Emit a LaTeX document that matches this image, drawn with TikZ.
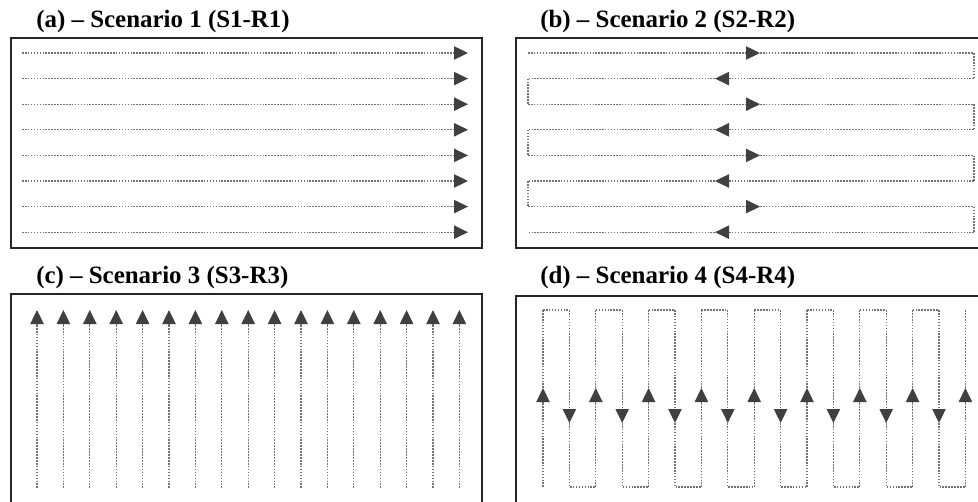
\documentclass[tikz,border=0pt]{standalone}
\usepackage{fontspec}
\setmainfont{Liberation Serif}
\usetikzlibrary{arrows.meta}

\begin{document}
\begin{tikzpicture}[x=0.75pt, y=-0.75pt,
    panel/.style={draw=black!85, line width=1.5pt},
    track/.style={draw=black!55, line width=0.9pt, dash pattern=on 1.2pt off 1pt},
    tip/.style={-{Triangle[length=10.5pt, width=10pt, color=black!75]}},
    title/.style={anchor=base west, inner sep=0pt, font=\fontsize{18.7}{22}\selectfont\bfseries}]
        \useasboundingbox (0,0) rectangle (978,502);
        \clip (0,0) rectangle (978,502);
        % titles
        \node[title] (titleA) at (36,28) {(a) – Scenario 1 (S1-R1)};
        \node[title] (titleB) at (540,28) {(b) – Scenario 2 (S2-R2)};
        \node[title] (titleC) at (36,284) {(c) – Scenario 3 (S3-R3)};
        \node[title] (titleD) at (540,284) {(d) – Scenario 4 (S4-R4)};
        % frames
        \draw[panel] (10.5,38) rectangle (482,248);
        \draw[panel] (516,38) rectangle (1000,248);
        \draw[panel] (10.5,294) rectangle (482,560);
        \draw[panel] (516,296) rectangle (1000,560);
        % (a) parallel rows
        \foreach \r in {0,...,7}
            \draw[track,tip] (22,{53+25.6*\r}) -- (468,{53+25.6*\r});
        % (b) back and forth rows
        \foreach \r in {0,2,4,6} {
            \draw[track,tip] (528,{53+25.6*\r}) -- (760,{53+25.6*\r});
            \draw[track] (760,{53+25.6*\r}) -- (974,{53+25.6*\r}) -- (974,{53+25.6*(\r+1)});
            \draw[track,tip] (974,{53+25.6*(\r+1)}) -- (715,{53+25.6*(\r+1)});
            \draw[track] (715,{53+25.6*(\r+1)}) -- (528,{53+25.6*(\r+1)});
        }
        \foreach \r in {1,3,5}
            \draw[track] (528,{53+25.6*\r}) -- (528,{53+25.6*(\r+1)});
        % (c) parallel columns
        \foreach \c in {0,...,16}
            \draw[track,tip] ({37+26.4*\c},488) -- ({37+26.4*\c},310);
        % (d) up and down columns
        \foreach \c in {0,2,...,16} {
            \draw[track,tip] ({543+26.4*\c},487) -- ({543+26.4*\c},388);
            \draw[track] ({543+26.4*\c},388) -- ({543+26.4*\c},310);
        }
        \foreach \c in {1,3,...,15} {
            \draw[track] ({543+26.4*(\c-1)},310) -- ({543+26.4*\c},310);
            \draw[track,tip] ({543+26.4*\c},310) -- ({543+26.4*\c},423);
            \draw[track] ({543+26.4*\c},423) -- ({543+26.4*\c},487) -- ({543+26.4*(\c+1)},487);
        }
      \end{tikzpicture}
\end{document}
